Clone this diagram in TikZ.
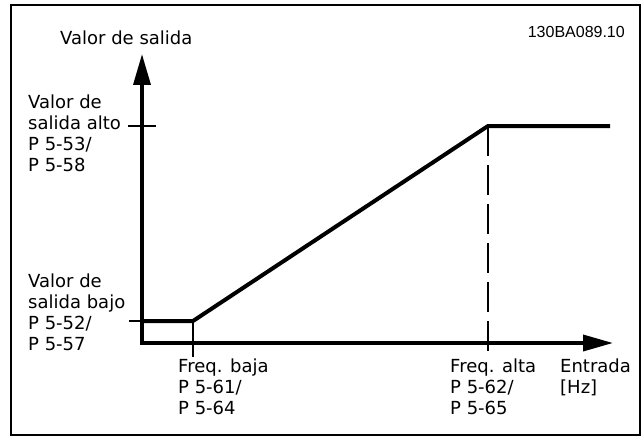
\documentclass[tikz,border=0pt]{standalone}
\usepackage{fontspec}
\setmainfont{DejaVu Sans}
\newfontfamily\idfont{Liberation Sans}
\usetikzlibrary{arrows.meta}
\newcommand{\mystack}[1]{\vtop{\baselineskip=21.3pt\lineskiplimit=-100pt\relax #1}}
\begin{document}
\begin{tikzpicture}[x=1pt,y=-1pt,
  font=\fontsize{18}{21}\selectfont,
  lbl/.style={anchor=base west, inner sep=0pt},
  axisline/.style={line width=3.6pt, {Triangle[length=31pt,width=17pt]}-{Triangle[length=30pt,width=16pt]}},
  curveline/.style={line width=4pt},
  thinline/.style={line width=1.3pt},
  dashline/.style={line width=1.3pt, dash pattern=on 30pt off 9pt}]
\useasboundingbox (0,0) rectangle (643,436);
\draw[line width=2pt] (11,5) rectangle (640,435);
% coordinates
\coordinate (O) at (142,343);
\coordinate (Ytip) at (142,54);
\coordinate (Xtip) at (613,343);
\coordinate (L0) at (142,321);
\coordinate (L1) at (193,321);
\coordinate (H1) at (488,126);
\coordinate (H2) at (610,126);
\coordinate (LT) at (129,321);
\coordinate (HTa) at (128,126);
\coordinate (HTb) at (156,126);
\coordinate (FB) at (193,357);
\coordinate (FA) at (488,357);
% axes
\draw[axisline] (Ytip) -- (O) -- (Xtip);
% characteristic
\draw[curveline] (L0) -- (L1) -- (H1) -- (H2);
% ticks
\draw[thinline] (LT) -- (L0);
\draw[thinline] (HTa) -- (HTb);
\draw[thinline] (L1) -- (FB);
\draw[dashline] (H1) -- (FA);
% labels
\node[lbl] (ylab) at (60,45) {Valor de salida};
\node[anchor=base east, inner sep=0pt, font=\idfont\fontsize{16}{19}\selectfont] (id) at (625,38) {130BA089.10};
\node[lbl] (high) at (28,108) {\mystack{\hbox{Valor de}\hbox{salida alto}\hbox{P 5-53/}\hbox{P 5-58}}};
\node[lbl] (low) at (28,287) {\mystack{\hbox{Valor de}\hbox{salida bajo}\hbox{P 5-52/}\hbox{P 5-57}}};
\node[lbl] (fb) at (178,372) {\mystack{\hbox{Freq. baja}\hbox{P 5-61/}\hbox{P 5-64}}};
\node[lbl] (fa) at (450,372) {\mystack{\hbox{Freq. alta}\hbox{P 5-62/}\hbox{P 5-65}}};
\node[lbl] (xlab) at (560,372) {\mystack{\hbox{Entrada}\hbox{[Hz]}}};
\end{tikzpicture}
\end{document}
